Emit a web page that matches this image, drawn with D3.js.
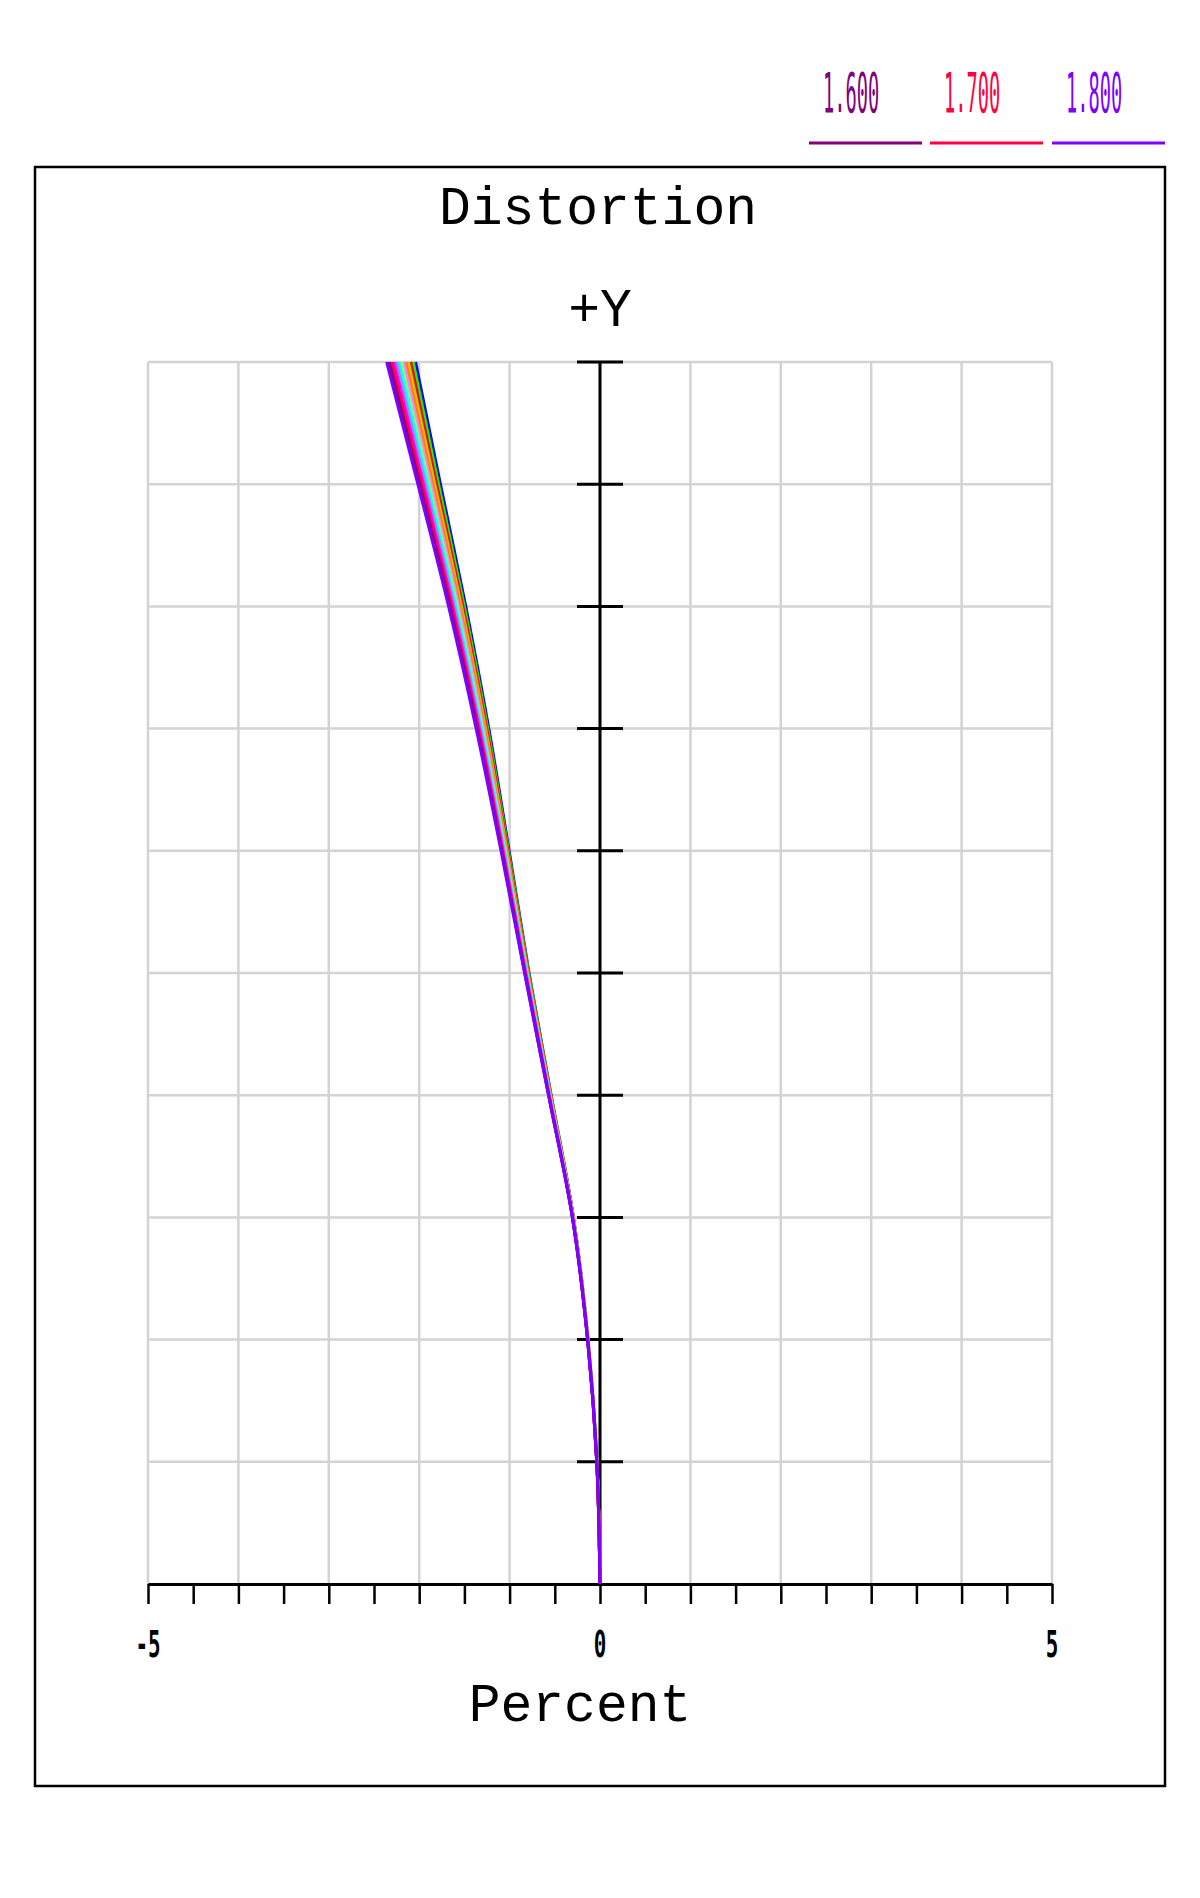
<!DOCTYPE html>
<html>
<head>
<meta charset="utf-8">
<script src="https://d3js.org/d3.v7.min.js"></script>
<style>
  html, body { margin: 0; padding: 0; background: #fff; }
  svg { display: block; }
</style>
</head>
<body>
<svg id="chart" width="1200" height="1898"></svg>
<script>
// ---------------- DATA ----------------
const fieldY = [0, 0.1, 0.2, 0.3, 0.4, 0.5, 0.6, 0.7, 0.8, 0.9, 1.0];

const wavelengths = ["0.600","0.700","0.800","0.900","1.000","1.100","1.200","1.300","1.400","1.500","1.700","1.600","1.800"];
const seriesColors = ["#0000ff","#00ff00","#ff0000","#c8c800","#ff8000","#ff80ff","#80ff80","#00ffff","#a080ff","#ff00ff","#ff0040","#800080","#8000ff"];

const dist0  = [0, -0.034, -0.133, -0.294, -0.540, -0.785, -1.005, -1.230, -1.485, -1.765, -2.040];
const dist1  = [0, -0.034, -0.133, -0.295, -0.543, -0.789, -1.013, -1.242, -1.501, -1.786, -2.067];
const dist2  = [0, -0.034, -0.133, -0.296, -0.545, -0.793, -1.020, -1.253, -1.517, -1.807, -2.093];
const dist3  = [0, -0.035, -0.134, -0.297, -0.548, -0.798, -1.028, -1.265, -1.533, -1.828, -2.120];
const dist4  = [0, -0.035, -0.134, -0.298, -0.550, -0.802, -1.035, -1.277, -1.548, -1.848, -2.147];
const dist5  = [0, -0.035, -0.135, -0.299, -0.553, -0.806, -1.043, -1.288, -1.564, -1.869, -2.173];
const dist6  = [0, -0.035, -0.135, -0.300, -0.555, -0.810, -1.050, -1.300, -1.580, -1.890, -2.200];
const dist7  = [0, -0.035, -0.135, -0.301, -0.558, -0.814, -1.058, -1.312, -1.596, -1.911, -2.227];
const dist8  = [0, -0.035, -0.136, -0.302, -0.560, -0.818, -1.065, -1.323, -1.612, -1.932, -2.253];
const dist9  = [0, -0.035, -0.136, -0.303, -0.563, -0.823, -1.073, -1.335, -1.628, -1.953, -2.280];
const dist10 = [0, -0.036, -0.137, -0.304, -0.565, -0.827, -1.080, -1.347, -1.643, -1.973, -2.307];
const dist11 = [0, -0.036, -0.137, -0.305, -0.568, -0.831, -1.088, -1.358, -1.659, -1.994, -2.333];
const dist12 = [0, -0.036, -0.138, -0.306, -0.570, -0.835, -1.095, -1.370, -1.675, -2.015, -2.360];
const allSeries = [dist0, dist1, dist2, dist3, dist4, dist5, dist6, dist7, dist8, dist9, dist10, dist11, dist12];

const legendLabels = ["1.600", "1.700", "1.800"];
const legendColors = ["#800080", "#ff0040", "#8000ff"];

const xGridValues = [-5, -4, -3, -2, -1, 0, 1, 2, 3, 4, 5];
const yGridValues = [0.1, 0.2, 0.3, 0.4, 0.5, 0.6, 0.7, 0.8, 0.9, 1.0];
const xTickValues = [-5,-4.5,-4,-3.5,-3,-2.5,-2,-1.5,-1,-0.5,0,0.5,1,1.5,2,2.5,3,3.5,4,4.5,5];
const xLabelValues = [-5, 0, 5];
const yTickValues = [0.1, 0.2, 0.3, 0.4, 0.5, 0.6, 0.7, 0.8, 0.9, 1.0];

const titleText = "Distortion";
const fieldLabel = "+Y";
const xAxisLabel = "Percent";

// ---------------- LAYOUT ----------------
const svg = d3.select("#chart");
const plot = { left: 148, right: 1052, top: 362, bottom: 1584 };
const frame = { left: 35, right: 1165, top: 167, bottom: 1786 };

const x = d3.scaleLinear().domain([-5, 5]).range([plot.left, plot.right]);
const y = d3.scaleLinear().domain([0, 1]).range([plot.bottom, plot.top]);

const mono = "'Liberation Mono', 'Courier New', monospace";
const narrow = "'DejaVu Sans Mono', monospace";

// Frame
svg.append("rect")
  .attr("x", frame.left).attr("y", frame.top)
  .attr("width", frame.right - frame.left).attr("height", frame.bottom - frame.top)
  .attr("fill", "none").attr("stroke", "#000").attr("stroke-width", 2.5);

// Legend
const legendLineX = [809, 930, 1052];
const legendW = 113;
legendLabels.forEach((lab, i) => {
  svg.append("line")
    .attr("x1", legendLineX[i]).attr("x2", legendLineX[i] + legendW)
    .attr("y1", 143).attr("y2", 143)
    .attr("stroke", legendColors[i]).attr("stroke-width", 3);
  svg.append("text")
    .attr("transform", `translate(${legendLineX[i] + 14},112) scale(0.34,1)`)
    .attr("font-family", narrow).attr("font-size", 55)
    .attr("fill", legendColors[i])
    .text(lab);
});

// Titles
svg.append("text").attr("x", 598).attr("y", 224)
  .attr("text-anchor", "middle").attr("font-family", mono).attr("font-size", 53)
  .attr("fill", "#000").text(titleText);
svg.append("text").attr("x", 600).attr("y", 326)
  .attr("text-anchor", "middle").attr("font-family", mono).attr("font-size", 53)
  .attr("fill", "#000").text(fieldLabel);
svg.append("text").attr("x", 580).attr("y", 1721)
  .attr("text-anchor", "middle").attr("font-family", mono).attr("font-size", 53)
  .attr("fill", "#000").text(xAxisLabel);

// Grid
const grid = svg.append("g").attr("stroke", "#d3d3d3").attr("stroke-width", 2.5);
xGridValues.forEach(v => {
  grid.append("line").attr("x1", x(v)).attr("x2", x(v))
    .attr("y1", y(0)).attr("y2", y(1));
});
yGridValues.forEach(v => {
  grid.append("line").attr("x1", x(-5)).attr("x2", x(5))
    .attr("y1", y(v)).attr("y2", y(v));
});

// X axis (D3 axis)
const xAxis = d3.axisBottom(x)
  .tickValues(xTickValues)
  .tickSize(20)
  .tickSizeOuter(0)
  .tickFormat(() => "");
const gx = svg.append("g").attr("transform", `translate(0,${plot.bottom})`).call(xAxis);
gx.select(".domain").attr("stroke", "#000").attr("stroke-width", 3);
gx.selectAll(".tick line").attr("stroke", "#000").attr("stroke-width", 2.5);

// X tick labels (narrow raster-like digits)
xLabelValues.forEach(v => {
  svg.append("text")
    .attr("transform", `translate(${x(v)},1657) scale(0.55,1)`)
    .attr("text-anchor", "middle")
    .attr("font-family", narrow).attr("font-size", 38).attr("font-weight", "bold")
    .attr("fill", "#000")
    .text(String(v));
});

// Y axis at x=0 with crossing ticks
svg.append("line").attr("x1", x(0)).attr("x2", x(0))
  .attr("y1", y(0)).attr("y2", y(1))
  .attr("stroke", "#000").attr("stroke-width", 3);
yTickValues.forEach(v => {
  svg.append("line").attr("x1", x(0) - 23).attr("x2", x(0) + 23)
    .attr("y1", y(v)).attr("y2", y(v))
    .attr("stroke", "#000").attr("stroke-width", 3);
});

// Curves
const line = d3.line()
  .x(d => x(d[0]))
  .y(d => y(d[1]))
  .curve(d3.curveMonotoneY);

allSeries.forEach((vals, i) => {
  const pts = vals.map((v, k) => [v, fieldY[k]]);
  svg.append("path")
    .attr("d", line(pts))
    .attr("fill", "none")
    .attr("stroke", seriesColors[i])
    .attr("stroke-width", 3)
    .attr("data-wavelength", wavelengths[i]);
});
</script>
</body>
</html>
